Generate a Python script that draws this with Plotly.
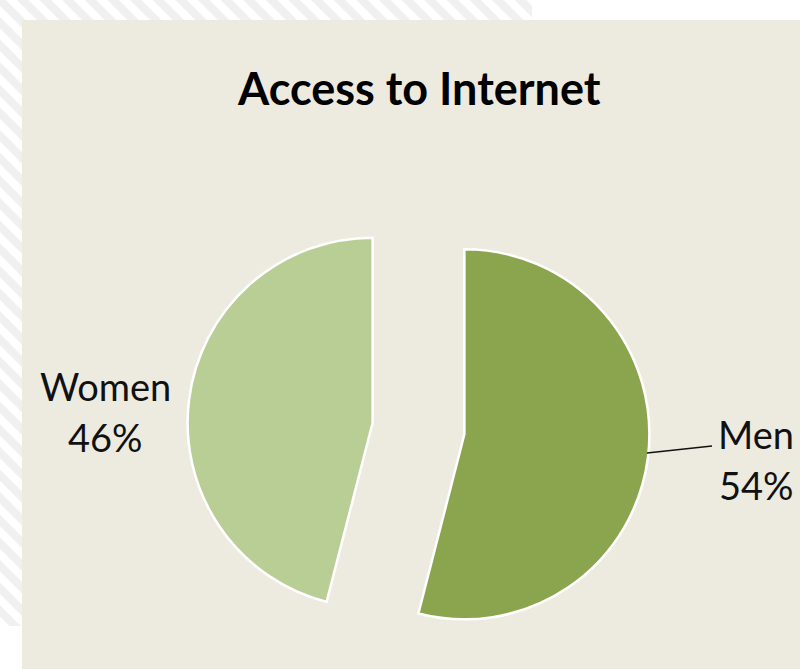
import plotly.graph_objects as go

# ---- data ----
categories = ["Men", "Women"]
values = [54, 46]
colors = ["#8AA54E", "#B8CE95"]
title_text = "Access to Internet"

W, H = 800, 669
total = sum(values)
pcts = [round(v / total * 100) for v in values]

fig = go.Figure()

# background decoration (pixel-space axes)
fig.add_trace(go.Bar(
    x=[266], y=[626], base=[0], width=[532],
    marker=dict(color="white", line=dict(width=0),
                pattern=dict(shape="\\", size=16, solidity=0.5,
                             fgcolor="#F0F0F0", bgcolor="white", fillmode="replace")),
    hoverinfo="skip", showlegend=False,
))
fig.add_trace(go.Bar(
    x=[411], y=[649], base=[20], width=[778],
    marker=dict(color="#EDEBE0", line=dict(width=0)),
    hoverinfo="skip", showlegend=False,
))

# pie
cx, cy, R, pull = 418.5, 428.5, 185, 0.25
ext = R * (1 + pull)
fig.add_trace(go.Pie(
    labels=categories, values=values, sort=False, direction="clockwise",
    rotation=0, pull=[pull, pull], textinfo="none", hoverinfo="label+percent",
    marker=dict(colors=colors, line=dict(color="white", width=2.5)),
    domain=dict(x=[(cx - ext) / W, (cx + ext) / W],
                y=[(H - cy - ext) / H, (H - cy + ext) / H]),
    showlegend=False,
))

# labels
label_pos = {"Men": (756, 434, 485), "Women": (105, 386, 437)}
for cat, p in zip(categories, pcts):
    x, y1, y2 = label_pos[cat]
    fig.add_annotation(x=x, y=y1, xref="x", yref="y", text=cat, showarrow=False,
                       font=dict(family="Lato", size=38, color="#111111"))
    fig.add_annotation(x=x, y=y2, xref="x", yref="y", text=f"{p}%", showarrow=False,
                       font=dict(family="Lato", size=38, color="#111111"))

fig.add_shape(type="line", xref="x", yref="y", x0=647, y0=453, x1=712, y1=446,
              line=dict(color="#111111", width=1.5))

fig.add_annotation(x=419, y=88, xref="x", yref="y", text="<b>" + title_text + "</b>",
                   showarrow=False, font=dict(family="Lato", size=45, color="#000000"))

fig.update_layout(
    width=W, height=H, margin=dict(l=0, r=0, t=0, b=0),
    paper_bgcolor="white", plot_bgcolor="rgba(0,0,0,0)",
    barmode="overlay",
    xaxis=dict(range=[0, W], domain=[0, 1], visible=False, fixedrange=True),
    yaxis=dict(range=[H, 0], domain=[0, 1], visible=False, fixedrange=True),
)

fig.write_html("out.html")
